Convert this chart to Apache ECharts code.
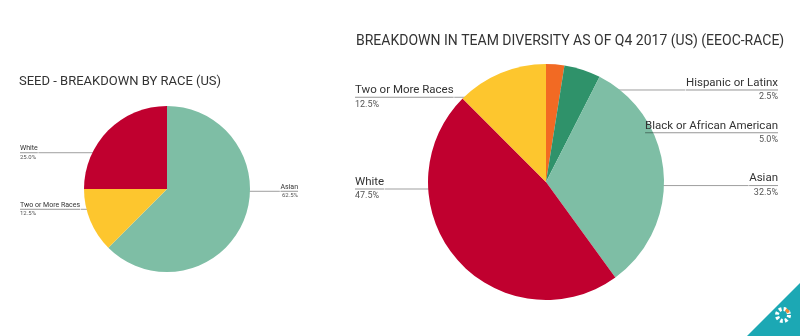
<!DOCTYPE html>
<html><head><meta charset="utf-8">
<script src="https://cdn.jsdelivr.net/npm/echarts@6/dist/echarts.min.js"></script>
<style>html,body{margin:0;padding:0;background:#fff}#c{width:800px;height:336px}</style>
</head><body><div id="c"></div>
<script>
// ---- data ----
const seedCategories = ['Asian', 'Two or More Races', 'White'];
const seedValues = [62.5, 12.5, 25.0];
const teamCategories = ['Hispanic or Latinx', 'Black or African American', 'Asian', 'White', 'Two or More Races'];
const teamValues = [2.5, 5.0, 32.5, 47.5, 12.5];
const chartTitles = ['SEED - BREAKDOWN BY RACE (US)', 'BREAKDOWN IN TEAM DIVERSITY AS OF Q4 2017 (US) (EEOC-RACE)'];

// ---- styling ----
const colorOf = {
  'Asian': '#7EBEA5',
  'Two or More Races': '#FDC62E',
  'White': '#C0002F',
  'Hispanic or Latinx': '#F26A23',
  'Black or African American': '#2F926A'
};
// label-line anchor offset (inward from the rim), per slice
const seedAnchorOffset = [-77, -30, -31.7];
const teamAnchorOffset = [-25.7, -66.2, -36, -107.2, -26.3];
// extra vertical nudge of a label (and its line), per slice
const seedLabelNudge = [0, 0, 0];
const teamLabelNudge = [0, 0, 10, 0, 0];
const nudges = [seedLabelNudge, teamLabelNudge];

function buildData(cats, vals, offs) {
  return cats.map((c, i) => ({
    name: c, value: vals[i],
    itemStyle: { color: colorOf[c] },
    labelLine: { length: offs[i] }
  }));
}
function labelCfg(nameSize, pctSize, lh) {
  return {
    position: 'outside', alignTo: 'edge', edgeDistance: 0, distanceToLabelLine: 0,
    formatter: p => '{n|' + p.name + '}\n{hr|}\n{p|' + p.percent.toFixed(1) + '%}',
    rich: {
      n: { fontSize: nameSize, lineHeight: lh, color: '#333', fontFamily: 'Roboto' },
      hr: { width: '100%', height: 0, borderColor: 'rgba(0,0,0,0.38)', borderWidth: 0.6 },
      p: { fontSize: pctSize, lineHeight: lh, color: '#555', fontFamily: 'Roboto' }
    }
  };
}
const lineCfg = {
  show: true, length2: 0, minTurnAngle: 0, maxSurfaceAngle: 180,
  lineStyle: { color: 'rgba(0,0,0,0.38)', width: 1 }
};
function flatLine(p) {
  const pts = p.labelLinePoints;
  if (!pts || pts.length < 3) return {};
  const d = (nudges[p.seriesIndex] || [])[p.dataIndex] || 0;
  const a = [pts[1][0], pts[1][1] + d];
  const b = [pts[2][0], pts[2][1] + d];
  return { dy: d, labelLinePoints: [a, a, b] };
}

const chart = echarts.init(document.getElementById('c'), null, { renderer: 'canvas' });
chart.setOption({
  animation: false,
  backgroundColor: '#fff',
  textStyle: { fontFamily: 'Roboto' },
  title: [
    { text: chartTitles[0], left: 19, top: 75.5, padding: 0,
      textStyle: { fontSize: 13, fontWeight: 'normal', color: '#333', fontFamily: 'Roboto' } },
    { text: chartTitles[1], left: 356, top: 34, padding: 0,
      textStyle: { fontSize: 14, fontWeight: 'normal', color: '#333', fontFamily: 'Roboto' } }
  ],
  series: [
    {
      type: 'pie', left: 20, right: 502, top: 0, bottom: 0,
      center: [147, 189], radius: [0, 83], startAngle: 90, clockwise: true,
      silent: true, emphasis: { disabled: true },
      label: labelCfg(7, 6, 9), labelLine: lineCfg, labelLayout: flatLine,
      data: buildData(seedCategories, seedValues, seedAnchorOffset)
    },
    {
      type: 'pie', left: 355, right: 22, top: 0, bottom: 0,
      center: [191, 182], radius: [0, 118], startAngle: 90, clockwise: true,
      silent: true, emphasis: { disabled: true },
      label: labelCfg(11.5, 9, 14), labelLine: lineCfg, labelLayout: flatLine,
      data: buildData(teamCategories, teamValues, teamAnchorOffset)
    }
  ],
  graphic: [
    { type: 'polygon', silent: true, shape: { points: [[747, 336], [800, 283], [800, 336]] }, style: { fill: '#1CA8B4' } },
    { type: 'circle', silent: true, shape: { cx: 783, cy: 315, r: 6 }, style: { fill: 'none', stroke: '#fff', lineWidth: 4, lineDash: [2.6, 2.1] } },
    { type: 'arc', silent: true, shape: { cx: 783, cy: 315, r: 6, startAngle: -1.1, endAngle: -0.4 }, style: { fill: 'none', stroke: '#F28B3A', lineWidth: 3 } }
  ]
});
</script>
</body></html>
